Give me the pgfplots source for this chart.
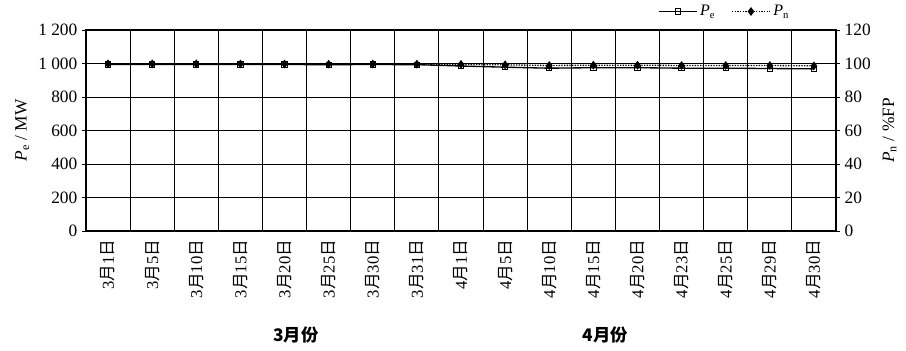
\documentclass[border=0pt]{standalone}
\usepackage{fontspec}
\setmainfont{Liberation Serif}
\newfontfamily\cjk{Noto Sans CJK SC}
\usepackage{pgfplots}
\pgfplotsset{compat=1.18}
\newcommand\md[2]{#1{\cjk 月}#2{\cjk 日}}
\begin{document}
\begin{tikzpicture}
\pgfplotsset{
  common/.style={
    scale only axis, width=562.5pt, height=150.75pt,
    xmin=-0.5, xmax=16.5,
    /pgf/number format/assume math mode=true,
    /pgf/number format/1000 sep={\hspace{0.25em}},
    tick label style={font=\fontsize{13}{14}\selectfont},
    label style={font=\fontsize{13}{14}\selectfont},
    axis line style={black, line width=0.8pt},
    tick align=outside,
    major tick length=3pt,
    every tick/.style={black, line width=0.6pt},
  }
}
\begin{axis}[common,
  clip=false,
  ymin=0, ymax=1200, ytick={0,200,...,1200},
  ytick pos=left,
  xtick={0,...,16},
  xticklabels={\md{3}{1},\md{3}{5},\md{3}{10},\md{3}{15},\md{3}{20},\md{3}{25},\md{3}{30},\md{3}{31},\md{4}{1},\md{4}{5},\md{4}{10},\md{4}{15},\md{4}{20},\md{4}{23},\md{4}{25},\md{4}{29},\md{4}{30}},
  xticklabel style={rotate=90, anchor=east, font=\fontsize{12.5}{13}\selectfont},
  major x tick style={draw=none},
  minor xtick={0.5,1.5,...,15.5},
  minor x tick style={draw=none},
  xminorgrids, ymajorgrids,
  major grid style={black, line width=0.7pt},
  minor grid style={black, line width=0.7pt},
  ylabel={\textit{P}\textsubscript{e} / MW},
  ylabel shift=0pt,
  legend image code/.code={\draw[mark repeat=2,mark phase=2] plot coordinates {(0cm,0cm)(0.5cm,0cm)(1cm,0cm)};},
  legend style={at={(1,1)}, anchor=south east, xshift=-30pt, yshift=5pt, draw=none, fill=none,
    font=\fontsize{12}{13}\selectfont, legend columns=2,
    /tikz/every even column/.append style={column sep=10pt}},
  legend cell align=left,
]
\addplot[black, line width=1pt, mark=square, mark size=2pt, mark options={solid, fill=white, line width=0.7pt}]
  table[x=x, y=pe] {
  x pe
  0 995
  1 995
  2 995
  3 994
  4 994
  5 993
  6 994
  7 993
  8 985
  9 978
  10 972
  11 975
  12 975
  13 972
  14 972
  15 970
  16 968
};
\addlegendentry{\textit{P}\textsubscript{e}}
\addlegendimage{black, line width=1pt, densely dotted, mark=diamond*, mark size=2.5pt, mark options={solid}}
\addlegendentry{\textit{P}\textsubscript{n}}
\node[font=\cjk\fontsize{13}{14}\selectfont\bfseries, yshift=-78pt] at (axis cs:4.26,0) {3月份};
\node[font=\cjk\fontsize{13}{14}\selectfont\bfseries, yshift=-78pt] at (axis cs:11.27,0) {4月份};
\end{axis}
\begin{axis}[common,
  ymin=0, ymax=120, ytick={0,20,...,120},
  axis x line=none,
  axis y line*=right,
  ylabel={\textit{P}\textsubscript{n} / \%FP},
  ylabel shift=2pt,
]
\addplot[black, line width=1pt, densely dotted, mark=diamond*, mark size=2.5pt, mark options={solid}]
  table[x=x, y=pn] {
  x pn
  0 99.8
  1 99.8
  2 99.8
  3 99.7
  4 99.7
  5 99.6
  6 99.7
  7 99.6
  8 99.5
  9 99.2
  10 98.8
  11 99.0
  12 99.0
  13 98.8
  14 98.8
  15 98.8
  16 98.6
};
\end{axis}
\pgfresetboundingbox
\path[use as bounding box] (-64.5pt,-89.25pt) rectangle (615pt,173.25pt);
\end{tikzpicture}
\end{document}
